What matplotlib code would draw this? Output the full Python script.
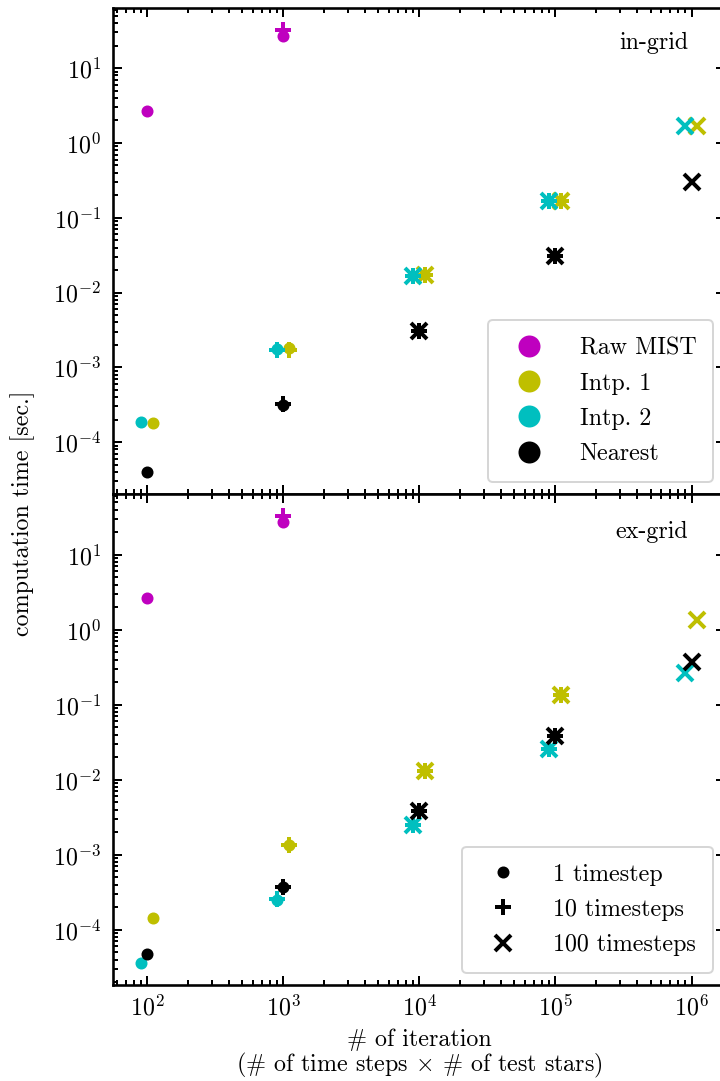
import matplotlib
matplotlib.use("Agg")
import matplotlib.pyplot as plt
from matplotlib.lines import Line2D
from matplotlib import ticker
import numpy as np

plt.rcParams['font.family'] = 'serif'
plt.rcParams['font.serif'] = ['cmr10']
plt.rcParams['mathtext.fontset'] = 'cm'
plt.rcParams['axes.formatter.use_mathtext'] = True
plt.rcParams['font.size'] = 12

# number of iterations (# of time steps x # of test stars)
ITER_1 = [1e2, 1e3]          # 1 timestep
ITER_10 = [1e3, 1e4, 1e5]    # 10 timesteps
ITER_100 = [1e4, 1e5, 1e6]   # 100 timesteps

METHODS = ['Raw MIST', 'Intp. 1', 'Intp. 2', 'Nearest']
COLORS = ['m', 'y', 'c', 'k']
SHIFT = [1.0, 1.1, 0.9, 1.0]   # small horizontal offset so points don't overlap

# in-grid timings [sec.]
in_raw_1 = [2.65, 26.9]
in_raw_10 = [32.3]
in_intp1_1 = [1.82e-4, 1.80e-3]
in_intp1_10 = [1.73e-3, 1.72e-2, 0.169]
in_intp1_100 = [1.70e-2, 0.170, 1.70]
in_intp2_1 = [1.85e-4, 1.78e-3]
in_intp2_10 = [1.73e-3, 1.68e-2, 0.168]
in_intp2_100 = [1.68e-2, 0.168, 1.67]
in_near_1 = [4.0e-5, 3.1e-4]
in_near_10 = [3.2e-4, 3.1e-3, 3.1e-2]
in_near_100 = [3.08e-3, 3.1e-2, 0.304]

# ex-grid timings [sec.]
ex_raw_1 = [2.65, 27.4]
ex_raw_10 = [32.6]
ex_intp1_1 = [1.46e-4, 1.34e-3]
ex_intp1_10 = [1.34e-3, 1.33e-2, 0.134]
ex_intp1_100 = [1.32e-2, 0.134, 1.36]
ex_intp2_1 = [3.65e-5, 2.5e-4]
ex_intp2_10 = [2.58e-4, 2.5e-3, 2.55e-2]
ex_intp2_100 = [2.5e-3, 2.6e-2, 0.262]
ex_near_1 = [4.72e-5, 3.7e-4]
ex_near_10 = [3.73e-4, 3.8e-3, 3.8e-2]
ex_near_100 = [3.86e-3, 3.9e-2, 0.376]

in_grid = [(in_raw_1, in_raw_10, []),
           (in_intp1_1, in_intp1_10, in_intp1_100),
           (in_intp2_1, in_intp2_10, in_intp2_100),
           (in_near_1, in_near_10, in_near_100)]
ex_grid = [(ex_raw_1, ex_raw_10, []),
           (ex_intp1_1, ex_intp1_10, ex_intp1_100),
           (ex_intp2_1, ex_intp2_10, ex_intp2_100),
           (ex_near_1, ex_near_10, ex_near_100)]


def draw(ax, data):
    for (t1, t10, t100), c, s in zip(data, COLORS, SHIFT):
        ax.plot(np.array(ITER_1[:len(t1)]) * s, t1, ls='', marker='o', ms=5, color=c)
        ax.plot(np.array(ITER_10[:len(t10)]) * s, t10, ls='', marker='+', ms=8, mew=2, color=c)
        if len(t100):
            ax.plot(np.array(ITER_100[:len(t100)]) * s, t100, ls='', marker='x', ms=8, mew=2, color=c)
    ax.set_xscale('log')
    ax.set_yscale('log')
    for axis in (ax.xaxis, ax.yaxis):
        axis.set_major_locator(ticker.LogLocator(base=10, numticks=20))
        axis.set_minor_locator(ticker.LogLocator(base=10, subs=np.arange(2, 10), numticks=20))
        axis.set_minor_formatter(ticker.NullFormatter())
    ax.tick_params(which='both', direction='in', top=True, right=True, width=1, pad=6)
    ax.tick_params(axis='x', pad=5)
    ax.tick_params(which='major', length=4.5)
    ax.tick_params(which='minor', length=2.5)
    for sp in ax.spines.values():
        sp.set_linewidth(1.3)


fig = plt.figure(figsize=(5, 1081 / 144), dpi=144)
left, right = 113 / 720, 725 / 720
top, mid, bot = 1 - 8 / 1081, 1 - 494 / 1081, 1 - 985 / 1081
ax1 = fig.add_axes([left, mid, right - left, top - mid])
ax2 = fig.add_axes([left, bot, right - left, mid - bot], sharex=ax1)

draw(ax1, in_grid)
draw(ax2, ex_grid)
ax1.tick_params(labelbottom=False)

ax1.text(0.94, 0.95, 'in-grid', transform=ax1.transAxes, ha='right', va='top')
ax2.text(0.94, 0.945, 'ex-grid', transform=ax2.transAxes, ha='right', va='top')

leg_kw = dict(loc='lower right', borderpad=0.7, handletextpad=1.1, labelspacing=0.55)
h1 = [Line2D([], [], ls='', marker='o', ms=10, color=c) for c in COLORS]
ax1.legend(h1, METHODS, **leg_kw)
h2 = [Line2D([], [], ls='', marker='o', ms=5, color='k'),
      Line2D([], [], ls='', marker='+', ms=8, mew=2, color='k'),
      Line2D([], [], ls='', marker='x', ms=8, mew=2, color='k')]
ax2.legend(h2, ['1 timestep', '10 timesteps', '100 timesteps'], **leg_kw)

ax2.set_xlabel('# of iteration\n(# of time steps $\\times$ # of test stars)',
               labelpad=4, linespacing=1.0)
fig.text(23 / 720, 1 - 513 / 1081, 'computation time [sec.]', rotation=90,
         ha='center', va='center')

fig.savefig('out.png', dpi=144)
